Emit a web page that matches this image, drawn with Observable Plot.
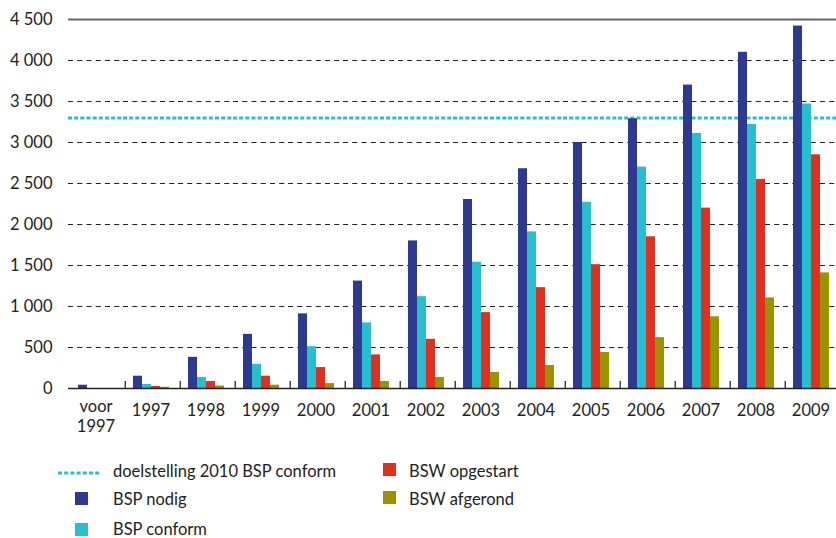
<!DOCTYPE html>
<html>
<head>
<meta charset="utf-8">
<script src="https://cdn.jsdelivr.net/npm/d3@7"></script>
<script src="https://cdn.jsdelivr.net/npm/@observablehq/plot@0.6"></script>
<style>
  html, body { margin: 0; padding: 0; background: #fff; overflow: hidden; width: 836px; height: 538px; }
  #chart { position: absolute; left: 0; top: 0; }
  #chart svg { max-width: none !important; }
  #legend { position: absolute; left: 0; top: 440px; }
</style>
</head>
<body>
<div id="chart"></div>
<div id="legend"></div>
<script>
// ---- data ----
const years = ["voor\n1997", "1997", "1998", "1999", "2000", "2001", "2002", "2003", "2004", "2005", "2006", "2007", "2008", "2009"];
const series = ["BSP nodig", "BSP conform", "BSW opgestart", "BSW afgerond"];
const bspNodig     = [40, 150, 380, 660, 910, 1310, 1800, 2305, 2680, 3000, 3290, 3700, 4100, 4420];
const bspConform   = [0, 50, 135, 295, 510, 800, 1120, 1540, 1910, 2270, 2700, 3110, 3220, 3470];
const bswOpgestart = [0, 25, 85, 150, 255, 410, 600, 925, 1230, 1510, 1850, 2200, 2550, 2850];
const bswAfgerond  = [0, 15, 30, 40, 60, 85, 135, 195, 280, 440, 620, 875, 1105, 1410];
const targetLabel = "doelstelling 2010 BSP conform";
const target = 3300;
const yTicks = [0, 500, 1000, 1500, 2000, 2500, 3000, 3500, 4000, 4500];
const gridTicks = [500, 1000, 1500, 2000, 2500, 3000, 3500, 4000];
const colors = ["#2e3a8f", "#27bfd0", "#e0301f", "#9c9200"];
const targetColor = "#27bfd0";

const valuesBySeries = [bspNodig, bspConform, bswOpgestart, bswAfgerond];
const data = [];
years.forEach((y, i) => series.forEach((s, j) => data.push({year: y, series: s, value: valuesBySeries[j][i]})));

const loc = d3.formatLocale({decimal: ",", thousands: " ", grouping: [3], currency: ["", ""]});
const fmt = loc.format(",d");

const font = "Lato, 'Open Sans', sans-serif";

const chart = Plot.plot({
  width: 841,
  height: 440,
  marginLeft: 64,
  marginRight: 0,
  marginTop: 19,
  marginBottom: 52,
  style: {fontFamily: font, fontSize: "16.5px", color: "#222", background: "#fff", maxWidth: "none"},
  fx: {domain: years, padding: 0, label: null, axis: null},
  x: {domain: series, paddingInner: 0, paddingOuter: 0.775, axis: null},
  y: {domain: [0, 4500], label: null, axis: null},
  color: {domain: series, range: colors},
  marks: [
    Plot.ruleY(gridTicks, {stroke: "#222", strokeWidth: 1.2, strokeDasharray: "5,4.25"}),
    Plot.ruleY([target], {stroke: targetColor, strokeWidth: 3, strokeDasharray: "4,2.1667"}),
    Plot.barY(data, {fx: "year", x: "series", y: "value", fill: "series"}),
    Plot.ruleY([0], {stroke: "#222", strokeWidth: 1.5}),
    Plot.ruleY([4500], {stroke: "#666", strokeWidth: 2}),
    // small ticks on the category boundaries (left edge of each group)
    Plot.ruleX(years.slice(1), {fx: d => d, x: () => series[0], dx: -12.75, y1: 0, y2: 85, stroke: "#444", strokeWidth: 1.5}),
    Plot.axisY({ticks: yTicks, tickSize: 0, tickPadding: 16, tickFormat: fmt, line: true, stroke: "#111", strokeWidth: 1.5, label: null, fontSize: 16.5}),
    Plot.axisFx({ticks: years.slice(0, 1), anchor: "bottom", tickSize: 0, tickPadding: 15.3, dy: -6, lineHeight: 1.2, label: null, fontSize: 16.5}),
    Plot.axisFx({ticks: years.slice(1), anchor: "bottom", tickSize: 0, tickPadding: 15.3, label: null, fontSize: 16.5})
  ]
});
document.getElementById("chart").appendChild(chart);

// ---- legend below the chart ----
const lg = d3.select("#legend").append("svg")
  .attr("width", 836).attr("height", 98)
  .style("font-family", font).style("font-size", "16.5px").style("fill", "#222");
lg.append("line").attr("x1", 58).attr("x2", 99).attr("y1", 33).attr("y2", 33)
  .attr("stroke", targetColor).attr("stroke-width", 3).attr("stroke-dasharray", "4,2.2");
lg.append("text").attr("x", 113).attr("y", 37).text(targetLabel);
const legendPos = [[75, 52, 113, 65], [75, 83, 113, 95], [383, 23, 409, 37], [383, 51, 409, 65]];
series.forEach((s, i) => {
  const [rx, ry, tx, ty] = legendPos[i];
  lg.append("rect").attr("x", rx).attr("y", ry).attr("width", 13).attr("height", 13).attr("fill", colors[i]);
  lg.append("text").attr("x", tx).attr("y", ty).text(s);
});
</script>
</body>
</html>
